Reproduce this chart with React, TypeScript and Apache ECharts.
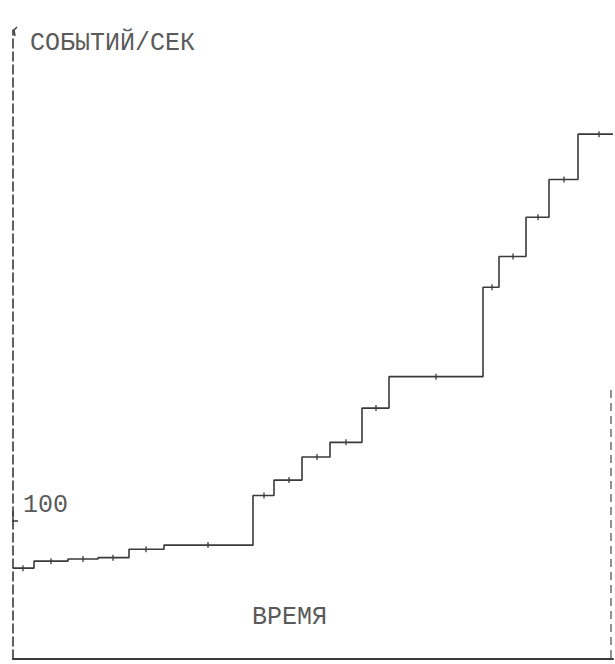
import React, { useEffect, useRef } from "react";
import * as echarts from "echarts";

// Time (arbitrary units) at which each rate level begins; last entry = end of record
const stepStarts = [0, 2.1, 5.5, 8.5, 11.6, 15.1, 24.0, 26.1, 28.9, 31.7, 34.9, 37.6, 47.0, 48.6, 51.3, 53.6, 56.5, 60];
// Counting rate (events per second) for each interval
const rateLevels = [65, 70, 71.5, 72.5, 78.5, 81.5, 117, 128, 144.5, 155, 179.5, 202, 266, 288, 316, 343, 375.5];
// Times of the individual measurements (small tick marks on the curve)
const measureTimes = [1.0, 3.8, 7.0, 10.0, 13.3, 19.5, 25.1, 27.6, 30.4, 33.3, 36.3, 42.3, 47.9, 50.0, 52.5, 55.1, 58.6];
// Labelled y tick
const yTickLabels = [100];

const INK = "#3a3a3a";
const TEXT_INK = "#5a5a5a";
const FONT = "Liberation Mono";

export default function App() {
  const ref = useRef<HTMLDivElement>(null);
  useEffect(() => {
    if (!ref.current) return;
    const chart = echarts.init(ref.current, undefined, { renderer: "svg" });

    const stepData: [number, number][] = rateLevels.map((v, i) => [stepStarts[i], v]);
    stepData.push([stepStarts[stepStarts.length - 1], rateLevels[rateLevels.length - 1]]);
    const markData: [number, number][] = measureTimes.map((t, i) => [t, rateLevels[i]]);

    chart.setOption({
      animation: false,
      backgroundColor: "#ffffff",
      grid: { left: 13, right: 2, top: 30, bottom: 5, containLabel: false },
      xAxis: {
        type: "value",
        min: 0,
        max: 60,
        axisLine: { show: true, onZero: false, lineStyle: { color: INK, width: 2 } },
        axisTick: { show: false },
        axisLabel: { show: false },
        splitLine: { show: false },
      },
      yAxis: {
        type: "value",
        min: 0,
        max: 450,
        interval: 50,
        axisLine: { show: true, lineStyle: { color: INK, width: 1.6, type: [9, 4] } },
        axisTick: { show: false },
        splitLine: { show: false },
        axisLabel: {
          show: true,
          inside: true,
          margin: 10,
          verticalAlign: "bottom",
          padding: [0, 0, 1, 0],
          color: TEXT_INK,
          fontFamily: FONT,
          fontSize: 25,
          formatter: (v: number) => (yTickLabels.includes(v) ? String(v) : ""),
        },
      },
      series: [
        {
          type: "line",
          step: "end",
          data: stepData,
          showSymbol: false,
          lineStyle: { color: INK, width: 1.6 },
          clip: false,
        },
        {
          type: "scatter",
          data: markData,
          symbol: "rect",
          symbolSize: [1.6, 6],
          itemStyle: { color: INK },
        },
      ],
      graphic: [
        {
          type: "text",
          left: 30,
          top: 31,
          style: { text: "СОБЫТИЙ/СЕК", fill: TEXT_INK, font: `25px "${FONT}"` },
        },
        {
          type: "text",
          left: 252,
          top: 605,
          style: { text: "ВРЕМЯ", fill: TEXT_INK, font: `25px "${FONT}"` },
        },
        {
          type: "polyline",
          shape: { points: [[13, 511], [13, 521], [18, 521]] },
          style: { stroke: INK, lineWidth: 1.4, fill: null },
        },
        {
          type: "polyline",
          shape: { points: [[15, 36], [14, 30], [17, 27]] },
          style: { stroke: INK, lineWidth: 1.4, fill: null },
        },
        {
          type: "line",
          shape: { x1: 611, y1: 390, x2: 611, y2: 659 },
          style: { stroke: "#555", lineWidth: 1.3, lineDash: [8, 5] },
        },
      ],
    });
    return () => chart.dispose();
  }, []);
  return (
    <div
      ref={ref}
      style={{ position: "fixed", left: 0, top: 0, width: 615, height: 664, background: "#fff" }}
    />
  );
}
